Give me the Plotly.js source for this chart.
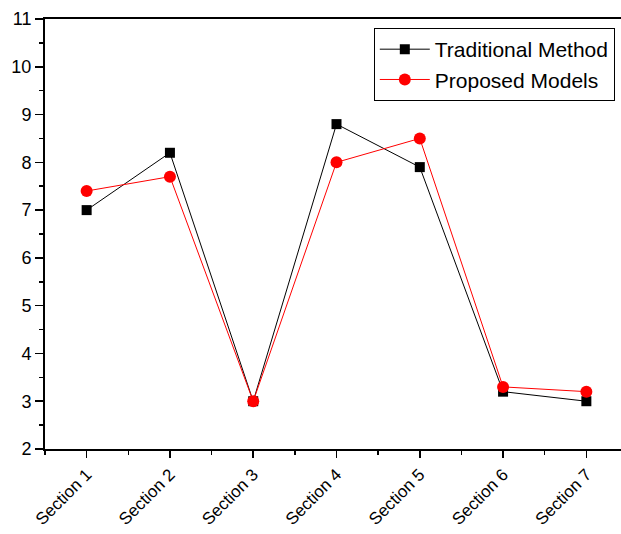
<!DOCTYPE html>
<html>
<head>
<meta charset="utf-8">
<script src="https://cdn.plot.ly/plotly-3.0.1.min.js"></script>
<style>
html, body { margin: 0; padding: 0; overflow: hidden; background: #fff; }
#chart { width: 630px; height: 534px; }
</style>
</head>
<body>
<div id="chart"></div>
<script>
const categories = ["Section 1", "Section 2", "Section 3", "Section 4", "Section 5", "Section 6", "Section 7"];
const traditionalMethod = [7.0, 8.2, 3.0, 8.8, 7.9, 3.2, 3.0];
const proposedModels = [7.4, 7.7, 3.0, 8.0, 8.5, 3.3, 3.2];
const yTickValues = [2, 3, 4, 5, 6, 7, 8, 9, 10, 11];

const xPos = categories.map((c, i) => i + 1);

const traces = [
  {
    x: xPos, y: traditionalMethod, name: "Traditional Method",
    mode: "lines+markers", type: "scatter",
    line: { color: "#000000", width: 1 },
    marker: { symbol: "square", size: 10, color: "#000000" }
  },
  {
    x: xPos, y: proposedModels, name: "Proposed Models",
    mode: "lines+markers", type: "scatter",
    line: { color: "#ff0000", width: 1 },
    marker: { symbol: "circle", size: 12, color: "#ff0000" }
  }
];

const layout = {
  width: 630, height: 534,
  margin: { l: 45, r: 2, t: 19, b: 85 },
  paper_bgcolor: "#ffffff", plot_bgcolor: "#ffffff",
  font: { family: "Arial, Liberation Sans, sans-serif", color: "#000000" },
  showlegend: true,
  legend: {
    x: 0.564, y: 0.979, xanchor: "left", yanchor: "top",
    bordercolor: "#000000", borderwidth: 1, bgcolor: "#ffffff",
    itemwidth: 50,
    font: { size: 21, color: "#000000" }
  },
  xaxis: {
    range: [0.5, 7.5],
    tickvals: xPos, ticktext: categories, tickangle: -45,
    tickfont: { size: 17 },
    ticks: "outside", ticklen: 7, tickwidth: 1.5, tickcolor: "#000",
    minor: { dtick: 0.5, ticks: "outside", ticklen: 4, tickwidth: 1.5, tickcolor: "#000" },
    showline: true, linecolor: "#000", linewidth: 2, mirror: true,
    showgrid: false, zeroline: false
  },
  yaxis: {
    range: [2, 11],
    tickvals: yTickValues,
    tickfont: { size: 18 },
    ticks: "outside", ticklen: 8, tickwidth: 1.5, tickcolor: "#000",
    minor: { dtick: 0.5, ticks: "outside", ticklen: 4, tickwidth: 1.5, tickcolor: "#000" },
    showline: true, linecolor: "#000", linewidth: 2, mirror: true,
    showgrid: false, zeroline: false
  }
};

Plotly.newPlot("chart", traces, layout, { displayModeBar: false, staticPlot: true });
</script>
</body>
</html>
